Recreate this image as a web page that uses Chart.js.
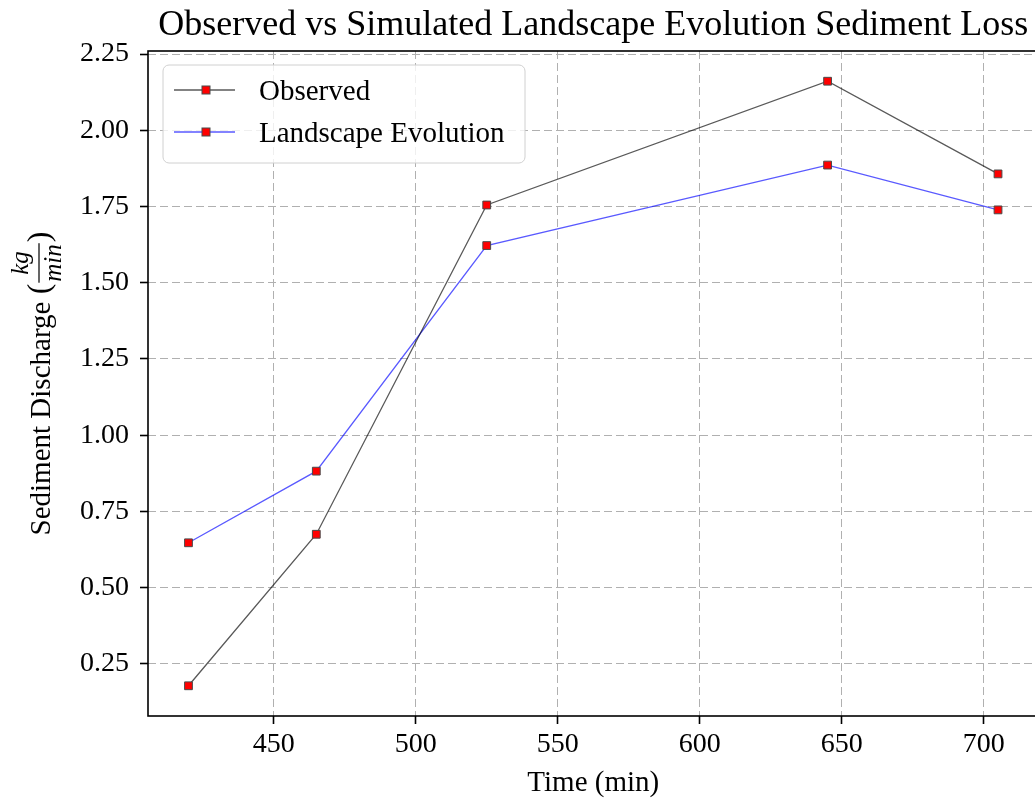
<!DOCTYPE html>
<html>
<head>
<meta charset="utf-8">
<script src="https://cdn.jsdelivr.net/npm/chart.js@4.4.1/dist/chart.umd.min.js"></script>
<style>
  html, body { margin: 0; padding: 0; background: #fff; overflow: hidden; }
  #wrap { width: 1045px; height: 801px; }
</style>
</head>
<body>
<div id="wrap"><canvas id="myChart" width="1045" height="801"></canvas></div>
<script>
// data
const times = [420, 465, 525, 645, 705];
const observed = [0.178, 0.675, 1.755, 2.161, 1.857];
const landscape = [0.647, 0.882, 1.622, 1.886, 1.739];
const seriesNames = ["Observed", "Landscape Evolution"];
const xTicks = [450, 500, 550, 600, 650, 700];
const yTicks = [0.25, 0.5, 0.75, 1.0, 1.25, 1.5, 1.75, 2.0, 2.25];

const SERIF = "'Liberation Serif', 'Times New Roman', serif";
const lineColors = ["rgba(0,0,0,0.65)", "rgba(0,0,255,0.65)"];

// matplotlib style 5% margins
function padRange(arr) {
  const lo = Math.min(...arr), hi = Math.max(...arr);
  const m = (hi - lo) * 0.05;
  return [lo - m, hi + m];
}
const xr = padRange(times);
const yr = padRange(observed.concat(landscape));

function toPoints(ys) {
  return times.map((t, i) => ({ x: t, y: ys[i] }));
}

function dataset(i, ys) {
  return {
    label: seriesNames[i],
    data: toPoints(ys),
    showLine: true,
    borderColor: lineColors[i],
    borderWidth: 1.3,
    pointStyle: "rect",
    pointRadius: 5.5,
    pointHoverRadius: 5.5,
    pointBackgroundColor: "#ff0000",
    pointBorderColor: "#4a4a4a",
    pointBorderWidth: 1
  };
}

// frame, title, axis labels and legend
const decorations = {
  id: "decorations",
  afterDatasetsDraw(chart) {
    const { ctx, chartArea: a } = chart;
    ctx.save();
    ctx.strokeStyle = "#000";
    ctx.lineWidth = 1.6;
    ctx.strokeRect(a.left, a.top, a.right - a.left, a.bottom - a.top);
    ctx.restore();
  },
  afterDraw(chart) {
    const { ctx, chartArea: a } = chart;
    const cx = (a.left + a.right) / 2;
    const cy = (a.top + a.bottom) / 2;
    ctx.save();
    ctx.fillStyle = "#000";

    // title
    ctx.font = "36px " + SERIF;
    ctx.textAlign = "center";
    ctx.textBaseline = "alphabetic";
    ctx.fillText("Observed vs Simulated Landscape Evolution Sediment Loss", cx, 34.5);

    // x label
    ctx.font = "29px " + SERIF;
    ctx.fillText("Time (min)", cx, 791);

    // y label with fraction
    ctx.save();
    ctx.translate(50, cy);
    ctx.rotate(-Math.PI / 2);
    ctx.textAlign = "left";
    const main = "Sediment Discharge ";
    ctx.font = "29px " + SERIF;
    const w1 = ctx.measureText(main).width;
    ctx.font = "32px " + SERIF;
    const wp = ctx.measureText("(").width;
    ctx.font = "italic 25px " + SERIF;
    const wf = Math.max(ctx.measureText("kg").width, ctx.measureText("min").width) + 4;
    const total = w1 + wp + wf + wp;
    let u = -total / 2;
    ctx.font = "29px " + SERIF;
    ctx.fillText(main, u, 0);
    u += w1;
    ctx.font = "32px " + SERIF;
    ctx.fillText("(", u, -1);
    u += wp;
    ctx.font = "italic 25px " + SERIF;
    ctx.textAlign = "center";
    ctx.fillText("kg", u + wf / 2, -22);
    ctx.fillText("min", u + wf / 2, 11);
    ctx.fillRect(u + 1, -11.6, wf - 2, 1.2);
    u += wf;
    ctx.textAlign = "left";
    ctx.font = "32px " + SERIF;
    ctx.fillText(")", u, -1);
    ctx.restore();

    // legend
    const bx = a.left + 15, by = a.top + 14, bw = 362, bh = 98;
    ctx.beginPath();
    ctx.roundRect(bx, by, bw, bh, 6);
    ctx.fillStyle = "rgba(255,255,255,0.8)";
    ctx.fill();
    ctx.strokeStyle = "#d0d0d0";
    ctx.lineWidth = 1;
    ctx.stroke();
    const rows = [by + 25, by + 67];
    ctx.font = "29px " + SERIF;
    ctx.textAlign = "left";
    ctx.textBaseline = "alphabetic";
    for (let i = 0; i < seriesNames.length; i++) {
      const ry = rows[i];
      ctx.strokeStyle = lineColors[i];
      ctx.lineWidth = 1.3;
      ctx.beginPath();
      ctx.moveTo(bx + 11, ry);
      ctx.lineTo(bx + 72, ry);
      ctx.stroke();
      ctx.fillStyle = "#ff0000";
      ctx.fillRect(bx + 39, ry - 4, 8, 8);
      ctx.strokeStyle = "#4a4a4a";
      ctx.lineWidth = 1;
      ctx.strokeRect(bx + 39, ry - 4, 8, 8);
      ctx.fillStyle = "#000";
      ctx.fillText(seriesNames[i], bx + 96, ry + 9.5);
    }
    ctx.restore();
  }
};

const gridOpts = {
  color: "#b0b0b0",
  lineWidth: 1,
  drawTicks: true,
  tickLength: 8,
  tickColor: "#000",
  tickWidth: 1.6,
  tickBorderDash: []
};

new Chart("myChart", {
  type: "scatter",
  data: {
    datasets: [dataset(0, observed), dataset(1, landscape)]
  },
  options: {
    responsive: false,
    animation: false,
    devicePixelRatio: 1,
    layout: { padding: { top: 51, right: 3, left: 0, bottom: 0 } },
    plugins: {
      legend: { display: false },
      title: { display: false },
      tooltip: { enabled: false }
    },
    scales: {
      x: {
        type: "linear",
        min: xr[0],
        max: xr[1],
        afterBuildTicks: s => { s.ticks = xTicks.map(v => ({ value: v })); },
        afterFit: s => { s.height = 85; },
        grid: gridOpts,
        border: { display: false, dash: [8, 4] },
        ticks: {
          font: { family: SERIF, size: 28 },
          color: "#000",
          padding: 4,
          maxRotation: 0,
          autoSkip: false,
          callback: v => String(v)
        }
      },
      y: {
        type: "linear",
        min: yr[0],
        max: yr[1],
        afterBuildTicks: s => { s.ticks = yTicks.map(v => ({ value: v })); },
        afterFit: s => { s.width = 148; },
        grid: gridOpts,
        border: { display: false, dash: [8, 4] },
        ticks: {
          font: { family: SERIF, size: 28 },
          color: "#000",
          padding: 11,
          autoSkip: false,
          callback: v => v.toFixed(2)
        }
      }
    }
  },
  plugins: [decorations]
});
</script>
</body>
</html>
